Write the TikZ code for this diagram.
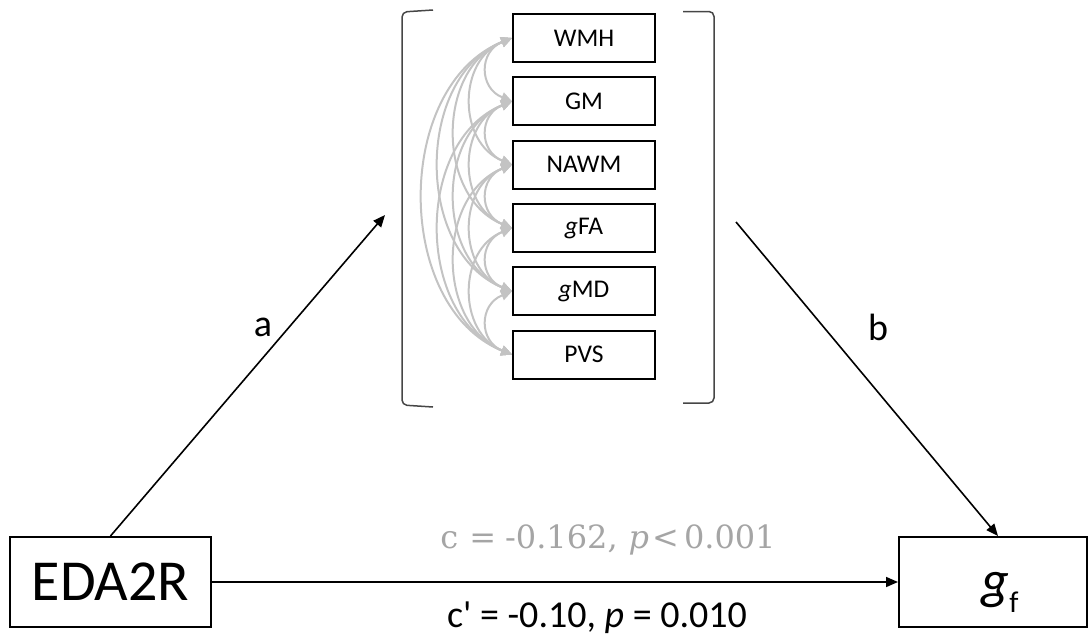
\documentclass[tikz,border=0pt]{standalone}
\usepackage{fontspec}
\setmainfont{Carlito}
\newfontfamily\serfam{DejaVu Serif}
\usetikzlibrary{arrows.meta,calc}
\definecolor{corrgrey}{RGB}{195,195,195}
\definecolor{labgrey}{RGB}{165,165,165}
\definecolor{brk}{RGB}{70,70,70}
\begin{document}
\begin{tikzpicture}[x=1pt,y=-1pt,
  bigbox/.style={draw=black,line width=2pt,minimum width=201pt,minimum height=90pt,inner sep=0pt},
  medbox/.style={draw=black,line width=1.8pt,minimum width=142pt,minimum height=48pt,inner sep=0pt,font=\fontsize{25.5}{30}\selectfont},
  path/.style={draw=black,line width=1.6pt,-{Triangle[length=12pt,width=10pt]}},
  corr/.style={draw=corrgrey,line width=2pt,{Triangle[length=11pt,width=10pt]}-{Triangle[length=11pt,width=10pt]}},
  pathlab/.style={font=\fontsize{38}{44}\selectfont},
  brack/.style={draw=brk,line width=1.5pt,rounded corners=5pt}
]
\useasboundingbox (0,0) rectangle (1089,643);
% main nodes
\node[bigbox,font=\fontsize{58}{66}\selectfont] (eda) at (110.5,582) {EDA2R};
\node[bigbox,minimum width=188pt] (gf) at (993,582) {};
\node (gflab) at (1000,592) {\fontsize{54}{60}\selectfont\itshape g\upshape\raisebox{-14pt}{\fontsize{30}{32}\selectfont f}};
% mediators
\node[medbox] (m1) at (584,38) {WMH};
\node[medbox] (m2) at (584,101.3) {GM};
\node[medbox] (m3) at (584,164.6) {NAWM};
\node[medbox] (m4) at (584,228) {{\itshape g}FA};
\node[medbox] (m5) at (584,291.3) {{\itshape g}MD};
\node[medbox] (m6) at (584,354.6) {PVS};
% brackets
\draw[brack] (433,10) -- (402,12) -- (402,405) -- (433,407);
\draw[brack] (683,11.5) -- (714,11.5) -- (714,403) -- (683,403);
% correlations
\foreach \i in {1,...,5}{
  \pgfmathtruncatemacro{\ist}{\i+1}
  \foreach \j in {\ist,...,6}{
    \pgfmathsetmacro{\cc}{(25+16*(\j-\i-1))/0.75}
    \pgfmathsetmacro{\ee}{0.4*\cc}
    \draw[corr] (m\i.west) .. controls +(-\cc,\ee) and +(-\cc,-\ee) .. (m\j.west);
  }
}
% paths
\coordinate (medL) at (385,215);
\coordinate (medR) at (736,222);
\draw[path] (eda.north) -- (medL);
\draw[path] (medR) -- ([xshift=5pt]gf.north);
\draw[path] (eda.east) -- (gf.west);
\node[pathlab] (la) at (263,327) {a};
\node[pathlab] (lb) at (878,327) {b};
\node[text=labgrey] (lc) at (608,540) {\fontsize{32}{36}\selectfont\serfam c\hspace{11pt}=\hspace{9pt}-0.162,\hspace{11pt}\textit{p}\hspace{3pt}<\hspace{5pt}0.001};
\node (lcp) at (597,618) {\fontsize{38}{44}\selectfont c\textquotesingle{} = -0.10, {\itshape p} = 0.010};
\end{tikzpicture}
\end{document}
